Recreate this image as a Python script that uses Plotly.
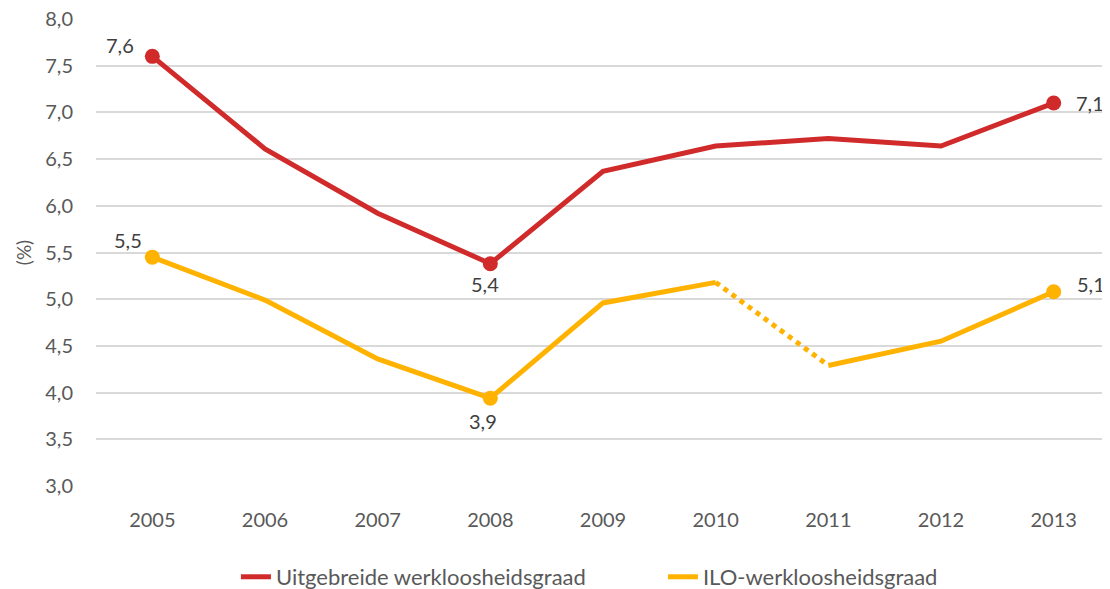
import plotly.graph_objects as go

years = ["2005", "2006", "2007", "2008", "2009", "2010", "2011", "2012", "2013"]
uitgebreide = [7.60, 6.61, 5.92, 5.38, 6.37, 6.64, 6.72, 6.64, 7.10]
ilo = [5.45, 4.99, 4.36, 3.94, 4.96, 5.18, 4.29, 4.55, 5.08]
label_idx = [0, 3, 8]
# label offsets in pixels (x, y) per labelled point
red_shift = [(-32, 11), (-5, -20), (36, 0)]
ilo_shift = [(-24, 17), (-7, -23), (37, 8)]

RED = "#D02A2B"
YEL = "#FFB300"
TXT = "#595959"
LBL = "#404040"
FONT = "Lato"

fig = go.Figure()

fig.add_trace(go.Scatter(x=years, y=uitgebreide, mode="lines", name="Uitgebreide werkloosheidsgraad",
                         line=dict(color=RED, width=5)))

x_solid = years[:6] + [None] + years[6:]
y_solid = ilo[:6] + [None] + ilo[6:]
fig.add_trace(go.Scatter(x=x_solid, y=y_solid, mode="lines", name="ILO-werkloosheidsgraad",
                         line=dict(color=YEL, width=5), connectgaps=False))
fig.add_trace(go.Scatter(x=years[5:7], y=ilo[5:7], mode="lines", showlegend=False,
                         line=dict(color=YEL, width=5, dash="dot")))

fig.add_trace(go.Scatter(x=[years[i] for i in label_idx], y=[uitgebreide[i] for i in label_idx],
                         mode="markers", showlegend=False, marker=dict(color=RED, size=15)))
fig.add_trace(go.Scatter(x=[years[i] for i in label_idx], y=[ilo[i] for i in label_idx],
                         mode="markers", showlegend=False, marker=dict(color=YEL, size=15)))

annotations = []
for series, shifts in ((uitgebreide, red_shift), (ilo, ilo_shift)):
    for i, (dx, dy) in zip(label_idx, shifts):
        annotations.append(dict(xref="x", yref="y", x=i, y=series[i],
                                text=f"{series[i]:.1f}".replace(".", ","),
                                showarrow=False, xshift=dx, yshift=dy,
                                font=dict(size=20, color=LBL, family=FONT)))

fig.update_layout(
    width=1110, height=589,
    margin=dict(l=88, r=8, t=11, b=111),
    plot_bgcolor="white", paper_bgcolor="white",
    separators=", ",
    font=dict(family=FONT, color=TXT, size=20),
    showlegend=True,
    annotations=annotations,
    legend=dict(orientation="h", x=0.138, xanchor="left", yref="container", y=0.034, yanchor="middle",
                font=dict(size=22, color=TXT, family=FONT), entrywidth=382),
)
fig.update_xaxes(type="category", range=[-0.5, 8.5], showgrid=False, showline=False, automargin=False,
                 ticks="", tickfont=dict(size=20, color=TXT), ticklabelstandoff=20)
fig.update_yaxes(range=[2.9999, 8.0001], tickvals=[3, 3.5, 4, 4.5, 5, 5.5, 6, 6.5, 7, 7.5, 8],
                 tickformat=".1f", showgrid=True, gridcolor="#D9D9D9", automargin=False,
                 gridwidth=1.5, zeroline=False, showline=False, ticks="",
                 tickfont=dict(size=20, color=TXT), ticklabelstandoff=22,
                 ticklabeloverflow="allow",
                 title=dict(text="(%)", font=dict(size=19, color=TXT), standoff=8))

fig.write_html("out.html")
